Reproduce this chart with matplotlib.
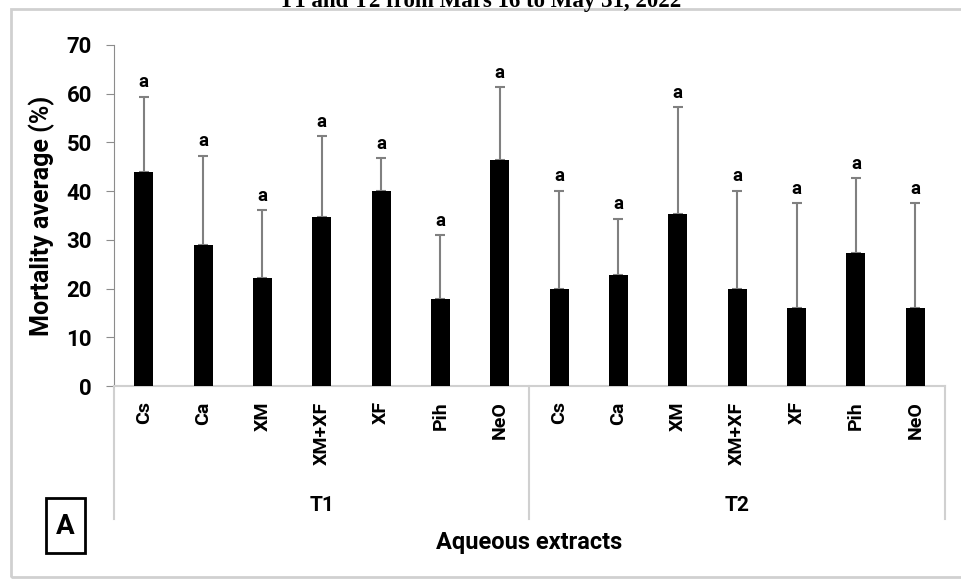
import matplotlib.pyplot as plt
from matplotlib.patches import Rectangle

# mortality average (%) per aqueous extract, two trials
extracts = ['Cs', 'Ca', 'XM', 'XM+XF', 'XF', 'Pih', 'NeO']
groups = ['T1', 'T2']
t1_mean = [44.0, 29.0, 22.2, 34.6, 40.0, 17.9, 46.4]
t1_sd = [15.4, 18.2, 13.9, 16.7, 6.7, 13.0, 14.9]
t2_mean = [19.9, 22.7, 35.3, 19.9, 16.0, 27.4, 16.0]
t2_sd = [20.2, 11.6, 21.9, 20.2, 21.5, 15.2, 21.5]
letters = ['a'] * 14

means = t1_mean + t2_mean
sds = t1_sd + t2_sd
labels = extracts + extracts
x = list(range(len(means)))

plt.rcParams['font.family'] = ['Roboto', 'DejaVu Sans']
plt.rcParams['font.weight'] = 'bold'

fig = plt.figure(figsize=(9.61, 5.81), dpi=100)
ax = fig.add_axes([0.1186, 0.3356, 0.8647, 0.587])

ax.bar(x, means, width=0.32, color='black', zorder=3)
ax.errorbar(x, means, yerr=[[0] * len(sds), sds], fmt='none',
            ecolor='#808080', elinewidth=1.5, capsize=3.5, capthick=1.5, zorder=2)

for xi, m, s, lt in zip(x, means, sds, letters):
    ax.annotate(lt, (xi, m + s), xytext=(0, 4), textcoords='offset points',
                ha='center', va='bottom', fontsize=13.5, fontweight='bold')

ax.set_xlim(-0.5, 13.5)
ax.set_ylim(0, 70)
ax.set_yticks(range(0, 71, 10))
ax.set_xticks(x)
ax.set_xticklabels(labels, rotation=90, fontsize=14, fontweight='bold')

for side in ['top', 'right']:
    ax.spines[side].set_visible(False)
ax.spines['left'].set_color('#8c8c8c')
ax.spines['bottom'].set_color('#d0d0d0')
ax.spines['bottom'].set_linewidth(1.5)
ax.tick_params(axis='y', direction='out', length=6, color='#8c8c8c',
               labelsize=16, pad=10)
ax.tick_params(axis='x', length=0, pad=11)
for t in ax.get_yticklabels():
    t.set_fontweight('bold')

ax.set_ylabel('Mortality average (%)', fontsize=18, fontweight='bold', labelpad=8)

# group separators and group names below the axis
for sep in [-0.5, 6.5, 13.5]:
    ax.plot([sep, sep], [0, -0.39], transform=ax.get_xaxis_transform(),
            color='#d0d0d0', lw=1.5, clip_on=False)
for i, g in enumerate(groups):
    ax.text(3 + 7 * i, -0.35, g, transform=ax.get_xaxis_transform(),
            ha='center', va='center', fontsize=15, fontweight='bold')

fig.text(0.551, 1 - 543 / 581, 'Aqueous extracts', ha='center', va='center',
         fontsize=17, fontweight='bold')

# panel letter in a box
fig.patches.append(Rectangle((46 / 961, 1 - 553 / 581), 39 / 961, 55 / 581,
                             transform=fig.transFigure, fc='white', ec='black',
                             lw=2))
fig.text(65.5 / 961, 1 - 526 / 581, 'A', ha='center', va='center', fontsize=20,
         fontweight='bold')

# outer frame of the panel
fig.patches.append(Rectangle((11 / 961, 1 - 577 / 581), 1.0, 568 / 581,
                             transform=fig.transFigure, fill=False,
                             ec='#d0d0d0', lw=2))

fig.text(0.5, 1 - 7 / 581, 'T1 and T2 from Mars 16 to May 31, 2022',
         ha='center', va='baseline', fontsize=16.5, fontweight='bold',
         family='Liberation Serif')

fig.savefig('out.png', dpi=100)
